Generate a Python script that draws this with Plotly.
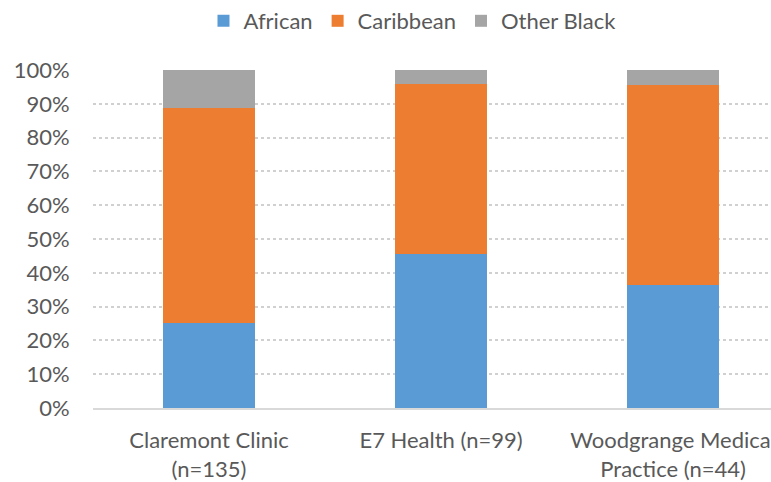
import plotly.graph_objects as go

categories = ["Claremont Clinic<br>(n=135)", "E7 Health (n=99)", "Woodgrange Medical<br>Practice (n=44)"]
african = [0.252, 0.455, 0.364]
caribbean = [0.637, 0.505, 0.591]
other_black = [0.111, 0.040, 0.045]
y_ticks = [0, 0.1, 0.2, 0.3, 0.4, 0.5, 0.6, 0.7, 0.8, 0.9, 1.0]
y_tick_labels = ["0%", "10%", "20%", "30%", "40%", "50%", "60%", "70%", "80%", "90%", "100%"]

FONT = "Lato"
TXT = "#595959"
FS = 22

fig = go.Figure()
for name, vals, col in [("African", african, "#5B9BD5"),
                        ("Caribbean", caribbean, "#ED7D31"),
                        ("Other Black", other_black, "#A5A5A5")]:
    fig.add_trace(go.Bar(x=[0, 1, 2], y=vals, name=name, marker_color=col,
                         marker_line_width=0, width=0.397))

fig.update_layout(
    barmode="stack",
    width=771, height=482,
    margin=dict(l=93, r=0, t=70, b=74),
    paper_bgcolor="white", plot_bgcolor="white",
    font=dict(family=FONT, size=FS, color=TXT),
    legend=dict(orientation="h", xref="container", yref="container",
                x=0.535, xanchor="center", y=1.0, yanchor="top",
                font=dict(size=FS, color=TXT), itemwidth=30,
                traceorder="normal"),
    showlegend=True,
)
fig.update_xaxes(
    range=[-0.5, 2.422], tickvals=[0, 1, 2], ticktext=categories,
    showgrid=False, showline=True, linecolor="#D9D9D9", linewidth=2,
    ticks="outside", ticklen=12, tickcolor="rgba(0,0,0,0)",
    ticklabeloverflow="allow",
    automargin=False, tickfont=dict(size=FS, color=TXT, family=FONT),
)
fig.update_yaxes(
    range=[0, 1.0], tickvals=y_ticks, ticktext=y_tick_labels,
    showgrid=True, gridcolor="#D0D0D0", griddash="dot", gridwidth=1.5,
    zeroline=False, showline=False,
    ticks="outside", ticklen=18, tickcolor="rgba(0,0,0,0)",
    automargin=False, tickfont=dict(size=FS, color=TXT, family=FONT),
)

fig.write_html("out.html", config={"displayModeBar": False},
               post_script="document.body.style.margin='0';document.body.style.overflow='hidden';")
